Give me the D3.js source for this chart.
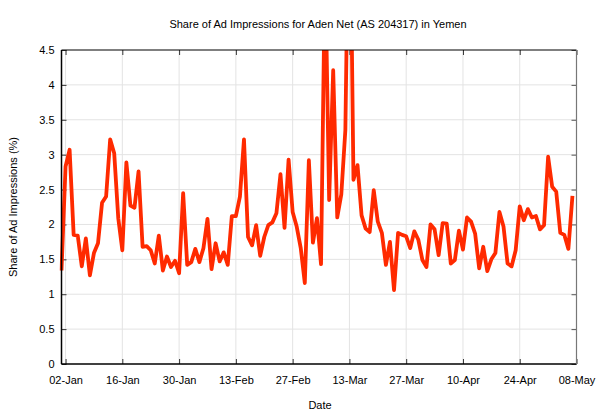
<!DOCTYPE html>
<html>
<head>
<meta charset="utf-8">
<script src="https://cdn.jsdelivr.net/npm/d3@7"></script>
<style>
  body { margin: 0; background: #fff; }
  text { font-family: "Liberation Sans", Arial, sans-serif; fill: #000; }
</style>
</head>
<body>
<div id="chart"></div>
<script>
const width = 598;
const height = 420;

// daily share of ad impressions (%), one array per month
const startDate = "2015-01-01";
const janValues = [1.34, 2.83, 3.07, 1.85, 1.84, 1.40, 1.80, 1.27, 1.59, 1.73, 2.31, 2.40, 3.22, 3.02, 2.09, 1.63,
                   2.89, 2.27, 2.24, 2.76, 1.68, 1.69, 1.63, 1.44, 1.84, 1.34, 1.54, 1.39, 1.48, 1.30, 2.45];
const febValues = [1.42, 1.46, 1.65, 1.46, 1.66, 2.08, 1.36, 1.73, 1.47, 1.60, 1.42, 2.12, 2.12, 2.40, 3.22, 1.82,
                   1.70, 1.99, 1.55, 1.82, 1.99, 2.03, 2.16, 2.72, 1.95, 2.93, 2.18, 1.97];
const marValues = [1.66, 1.16, 2.92, 1.74, 2.09, 1.43, 5.8, 2.35, 4.21, 2.10, 2.43, 3.35, 7.5, 2.64, 2.85, 2.13,
                   1.94, 1.89, 2.49, 2.04, 1.88, 1.42, 1.75, 1.06, 1.88, 1.85, 1.83, 1.66, 1.90, 1.78, 1.49];
const aprValues = [1.39, 2.00, 1.93, 1.56, 2.02, 2.01, 1.44, 1.49, 1.91, 1.64, 2.10, 2.04, 1.87, 1.37, 1.68, 1.33,
                   1.50, 1.59, 2.18, 1.97, 1.44, 1.40, 1.63, 2.26, 2.06, 2.22, 2.10, 2.12, 1.93, 1.99];
const mayValues = [2.97, 2.54, 2.47, 1.88, 1.85, 1.65, 2.41];

const xTickLabels = ["02-Jan", "16-Jan", "30-Jan", "13-Feb", "27-Feb", "13-Mar", "27-Mar", "10-Apr", "24-Apr", "08-May"];
const yTicks = [0, 0.5, 1, 1.5, 2, 2.5, 3, 3.5, 4, 4.5];

const values = [].concat(janValues, febValues, marValues, aprValues, mayValues);
const day0 = new Date(startDate + "T00:00:00Z");
const data = values.map((v, i) => ({date: d3.utcDay.offset(day0, i), value: v}));

const margin = {top: 50, right: 21.5, bottom: 56, left: 61.5};
const plotW = width - margin.left - margin.right;
const plotH = height - margin.top - margin.bottom;

const parseTick = d3.utcParse("%d-%b-%Y");
const tickDates = xTickLabels.map(t => parseTick(t + "-2015"));

const x = d3.scaleUtc()
  .domain([day0, d3.utcDay.offset(day0, 127)])
  .range([0, plotW]);

const y = d3.scaleLinear()
  .domain([0, 4.5])
  .range([plotH, 0]);

const svg = d3.select("#chart")
  .append("svg")
  .attr("width", width)
  .attr("height", height);

const g = svg.append("g")
  .attr("transform", `translate(${margin.left},${margin.top})`);

// grid
g.append("g")
  .selectAll("line")
  .data(yTicks.slice(1, -1))
  .join("line")
  .attr("x1", 0).attr("x2", plotW)
  .attr("y1", d => y(d)).attr("y2", d => y(d))
  .attr("stroke", "#e3e3e3").attr("stroke-width", 1);

g.append("g")
  .selectAll("line")
  .data(tickDates.slice(0, -1))
  .join("line")
  .attr("x1", d => x(d)).attr("x2", d => x(d))
  .attr("y1", 0).attr("y2", plotH)
  .attr("stroke", "#e3e3e3").attr("stroke-width", 1);

// axes with inward ticks
const fmt = d3.utcFormat("%d-%b");
g.append("g")
  .attr("transform", `translate(0,${plotH})`)
  .call(d3.axisBottom(x).tickValues(tickDates).tickFormat(fmt).tickSizeInner(-5).tickSizeOuter(0).tickPadding(12))
  .call(a => a.select(".domain").remove())
  .call(a => a.selectAll("text").attr("font-size", 11).attr("font-family", "Liberation Sans, Arial, sans-serif"))
  .call(a => a.selectAll("line").attr("stroke", "#333"));

g.append("g")
  .call(d3.axisTop(x).tickValues(tickDates).tickFormat("").tickSizeInner(-5).tickSizeOuter(0))
  .call(a => a.select(".domain").remove())
  .call(a => a.selectAll("line").attr("stroke", "#333"));

g.append("g")
  .call(d3.axisLeft(y).tickValues(yTicks).tickFormat(d3.format("")).tickSizeInner(-5).tickSizeOuter(0).tickPadding(7))
  .call(a => a.select(".domain").remove())
  .call(a => a.selectAll("text").attr("font-size", 11).attr("font-family", "Liberation Sans, Arial, sans-serif"))
  .call(a => a.selectAll("line").attr("stroke", "#333"));

g.append("g")
  .attr("transform", `translate(${plotW},0)`)
  .call(d3.axisRight(y).tickValues(yTicks).tickFormat("").tickSizeInner(-5).tickSizeOuter(0))
  .call(a => a.select(".domain").remove())
  .call(a => a.selectAll("line").attr("stroke", "#555"));

// data line, clipped to the plot area
g.append("clipPath")
  .attr("id", "clip")
  .append("rect")
  .attr("x", -2).attr("y", 0)
  .attr("width", plotW + 4).attr("height", plotH);

const line = d3.line()
  .x(d => x(d.date))
  .y(d => y(d.value));

g.append("path")
  .datum(data)
  .attr("clip-path", "url(#clip)")
  .attr("fill", "none")
  .attr("stroke", "#ff2a00")
  .attr("stroke-width", 3.8)
  .attr("stroke-linejoin", "round")
  .attr("d", line);

// frame
g.append("line").attr("x1", 0).attr("x2", plotW).attr("y1", 0).attr("y2", 0)
  .attr("stroke", "#000").attr("stroke-width", 1.2);
g.append("line").attr("x1", 0).attr("x2", plotW).attr("y1", plotH).attr("y2", plotH)
  .attr("stroke", "#000").attr("stroke-width", 1.5);
g.append("line").attr("x1", 0).attr("x2", 0).attr("y1", 0).attr("y2", plotH)
  .attr("stroke", "#000").attr("stroke-width", 1.5);
g.append("line").attr("x1", plotW).attr("x2", plotW).attr("y1", 0).attr("y2", plotH)
  .attr("stroke", "#777").attr("stroke-width", 1.2);

// titles
svg.append("text")
  .attr("x", 318).attr("y", 28)
  .attr("text-anchor", "middle")
  .attr("font-size", 11)
  .text("Share of Ad Impressions for Aden Net (AS 204317) in Yemen");

svg.append("text")
  .attr("x", 320).attr("y", 409)
  .attr("text-anchor", "middle")
  .attr("font-size", 11)
  .text("Date");

svg.append("text")
  .attr("transform", `translate(17,${margin.top + plotH / 2}) rotate(-90)`)
  .attr("text-anchor", "middle")
  .attr("font-size", 11)
  .text("Share of Ad Impressions (%)");
</script>
</body>
</html>
